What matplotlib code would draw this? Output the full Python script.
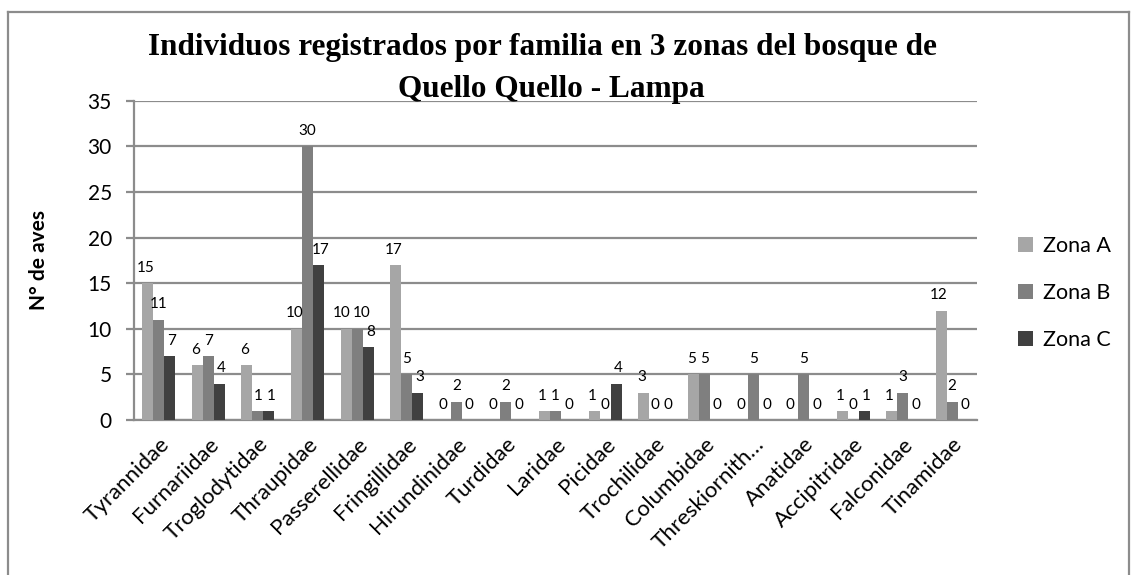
import matplotlib.pyplot as plt
import numpy as np

# datos por familia
familias = ['Tyrannidae', 'Furnariidae', 'Troglodytidae', 'Thraupidae', 'Passerellidae',
            'Fringillidae', 'Hirundinidae', 'Turdidae', 'Laridae', 'Picidae', 'Trochilidae',
            'Columbidae', 'Threskiornith…', 'Anatidae', 'Accipitridae', 'Falconidae', 'Tinamidae']
zona_a = [15, 6, 6, 10, 10, 17, 0, 0, 1, 1, 3, 5, 0, 0, 1, 1, 12]
zona_b = [11, 7, 1, 30, 10, 5, 2, 2, 1, 0, 0, 5, 5, 5, 0, 3, 2]
zona_c = [7, 4, 1, 17, 8, 3, 0, 0, 0, 4, 0, 0, 0, 0, 1, 0, 0]
zonas = ['Zona A', 'Zona B', 'Zona C']
colores = ['#a6a6a6', '#7f7f7f', '#404040']

W, H = 1137, 575
fig = plt.figure(figsize=(W / 100, H / 100), dpi=100)
ax = fig.add_axes([134 / W, 1 - 420 / H, (977 - 134) / W, (420 - 100.7) / H])

gris = '#8c8c8c'
sans = 'Lato'
x = np.arange(len(familias))
ancho = 0.222

# pequeño corrimiento (en puntos) de etiquetas que se pisan
corrimiento = {(4, 0): -2, (4, 1): 3}

for i, (vals, nombre, col) in enumerate(zip([zona_a, zona_b, zona_c], zonas, colores)):
    barras = ax.bar(x + (i - 1) * ancho, vals, ancho, color=col, label=nombre, zorder=3)
    for j, (b, v) in enumerate(zip(barras, vals)):
        dx = (i - 1) * 1.5 + corrimiento.get((j, i), 0)
        ax.annotate(str(v), (b.get_x() + b.get_width() / 2, v), xytext=(dx, 6),
                    textcoords='offset points', ha='center', va='bottom',
                    fontsize=11, family=sans, zorder=4)

ax.set_xlim(-0.5, len(familias) - 0.5)
ax.set_ylim(0, 35)
ax.set_yticks(range(0, 36, 5))
ax.yaxis.grid(True, color=gris, lw=1.6, zorder=0)
ax.tick_params(axis='y', length=6, width=1.6, color=gris, pad=10, labelsize=15)
ax.tick_params(axis='x', length=0, pad=10)
for lab in ax.get_yticklabels():
    lab.set_family(sans)

ax.set_xticks(x)
ax.set_xticklabels(familias, rotation=45, ha='right', va='top', rotation_mode='anchor',
                   fontsize=16, family=sans)

for s in ['top', 'right']:
    ax.spines[s].set_visible(False)
for s in ['left', 'bottom']:
    ax.spines[s].set_color(gris)
    ax.spines[s].set_linewidth(1.6)

ax.set_ylabel('N° de aves', fontsize=15, fontweight='bold', family=sans, labelpad=28)

# titulo en dos lineas
fig.text(542 / W, 1 - 55 / H, 'Individuos registrados por familia en 3 zonas del bosque de',
         ha='center', va='baseline', fontsize=22.5, fontweight='bold', family='Liberation Serif')
fig.text(551 / W, 1 - 97 / H, 'Quello Quello - Lampa',
         ha='center', va='baseline', fontsize=22.5, fontweight='bold', family='Liberation Serif')

leg = fig.legend(loc='upper left', bbox_to_anchor=(1018 / W, 1 - 236 / H), frameon=False,
                 prop={'family': sans, 'size': 15.5}, handlelength=0.7, handleheight=0.7,
                 handletextpad=0.45, labelspacing=1.25, borderpad=0, borderaxespad=0)

# marco exterior
for xs, ys in [([8, 8], [12, H + 5]), ([8, 1129], [12, 12]), ([1129, 1129], [12, H + 5])]:
    fig.add_artist(plt.Line2D([v / W for v in xs], [1 - v / H for v in ys], color=gris, lw=1.6))

fig.savefig('out.png', dpi=100)
